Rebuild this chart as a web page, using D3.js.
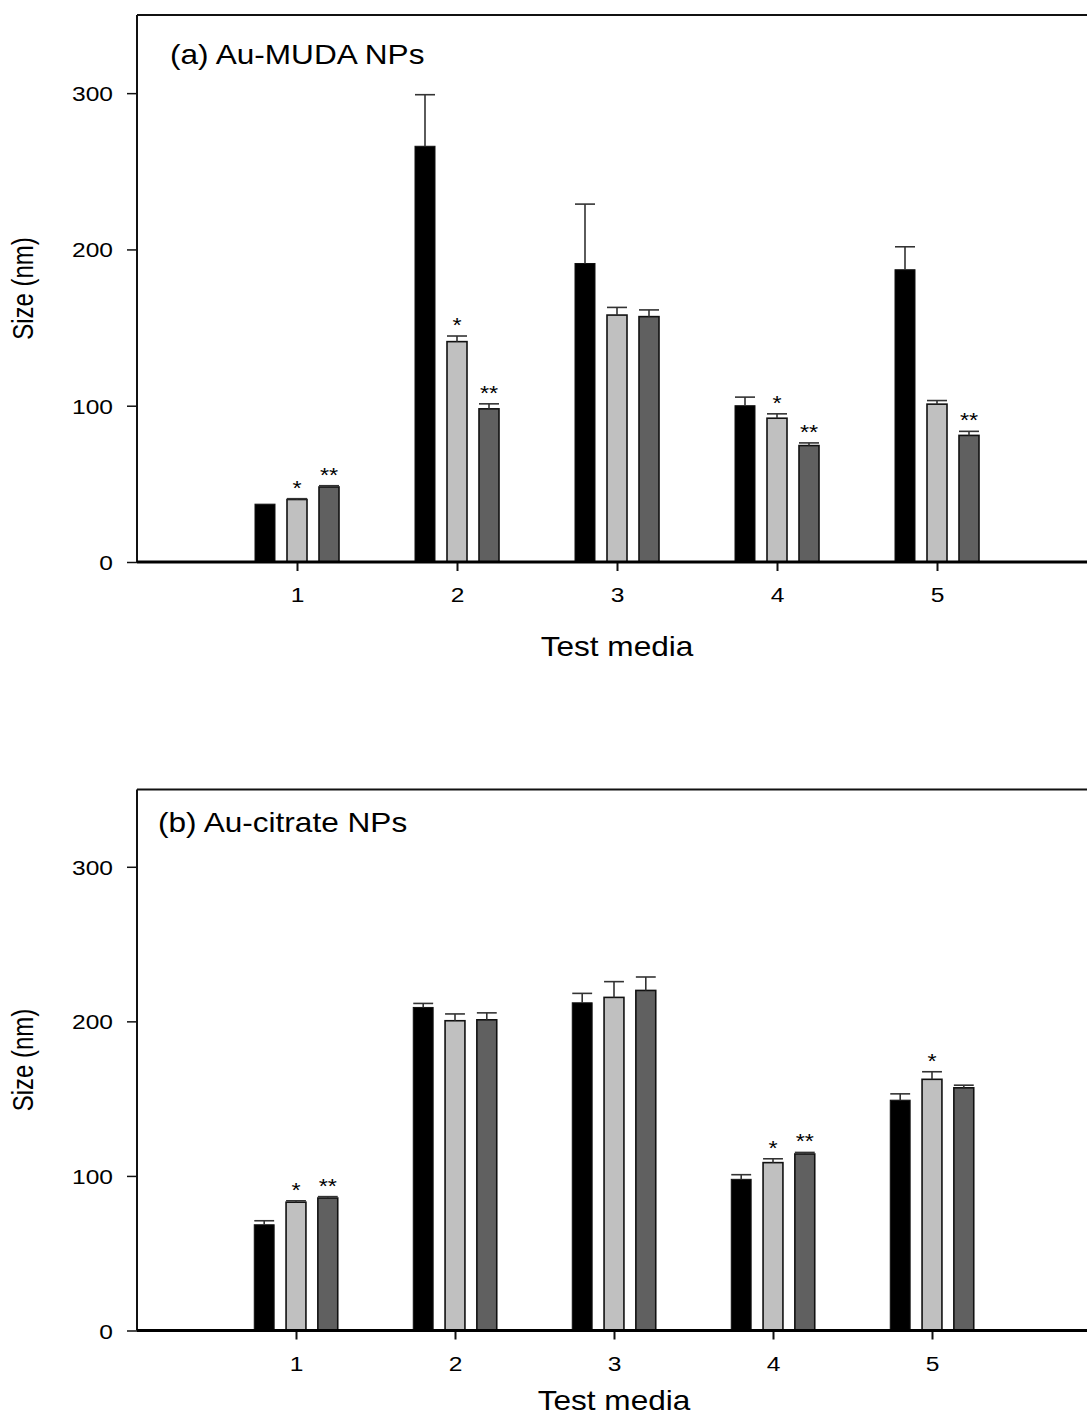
<!DOCTYPE html>
<html>
<head>
<meta charset="utf-8">
<script src="https://cdn.jsdelivr.net/npm/d3@7"></script>
<style>
  html, body { margin: 0; padding: 0; background: #fff; }
  svg { display: block; }
</style>
</head>
<body>
<div id="chart"></div>
<script>
// test media 1..5, three series per medium (black, light grey, dark grey)
const media = [1, 2, 3, 4, 5];
const yTicks = [0, 100, 200, 300];

// (a) Au-MUDA NPs
const mudaS0 = [37, 266, 191, 100, 187];
const mudaS0Err = [0, 33, 38, 5.5, 14.7];
const mudaS1 = [40, 141, 158, 92, 101];
const mudaS1Err = [0.5, 3.6, 4.9, 2.8, 2.3];
const mudaS2 = [48, 98, 157, 74.5, 81];
const mudaS2Err = [0.8, 3.2, 4.3, 1.7, 2.6];
const mudaSig1 = ['*', '*', '', '*', ''];
const mudaSig2 = ['**', '**', '', '**', '**'];

// (b) Au-citrate NPs
const citS0 = [68.4, 209, 212, 97.8, 149];
const citS0Err = [2.6, 2.6, 6.1, 3, 4.1];
const citS1 = [83, 200.4, 215.5, 108.6, 162.5];
const citS1Err = [0.9, 4.4, 10.2, 2.5, 4.9];
const citS2 = [85.7, 201, 220, 114.2, 157];
const citS2Err = [0.9, 4.5, 8.7, 1, 1.7];
const citSig1 = ['*', '', '', '*', '*'];
const citSig2 = ['**', '', '', '**', ''];

const W = 1087, H = 1418;
const FONT = 'Liberation Sans, Arial, sans-serif';
const SX = 1.17; // the figure is stretched horizontally
const FILLS = ['#000000', '#c0c0c0', '#606060'];

const svg = d3.select('#chart').append('svg')
  .attr('width', W).attr('height', H)
  .attr('viewBox', `0 0 ${W} ${H}`);

const panels = [
  { title: '(a) Au-MUDA NPs', y0: 562, yTop: 15, unit: 160, titleX: 170, titleY: 64, labelY: 656,
    series: [mudaS0, mudaS1, mudaS2], errs: [mudaS0Err, mudaS1Err, mudaS2Err], sig: [null, mudaSig1, mudaSig2] },
  { title: '(b) Au-citrate NPs', y0: 1330.5, yTop: 789.5, unit: 159, titleX: 158, titleY: 832, labelY: 1410,
    series: [citS0, citS1, citS2], errs: [citS0Err, citS1Err, citS2Err], sig: [null, citSig1, citSig2] }
];

panels.forEach(p => drawPanel(p));

function drawPanel(p) {
  const x0 = 137;
  const x = d3.scaleLinear().domain([0, 6]).range([x0, x0 + 6 * p.unit]);
  const y = d3.scaleLinear().domain([0, 350]).range([p.y0, p.yTop]);
  const g = svg.append('g');

  const offset = 0.2, barW = 0.125;

  // bars
  p.series.forEach((vals, si) => {
    const bw = x(barW) - x(0);
    const bg = g.append('g');
    vals.forEach((v, i) => {
      const cx = x(media[i] + (si - 1) * offset);
      bg.append('rect')
        .attr('x', cx - bw / 2).attr('width', bw)
        .attr('y', y(v)).attr('height', y(0) - y(v))
        .attr('fill', FILLS[si])
        .attr('stroke', '#111').attr('stroke-width', si === 0 ? 1 : 1.6);

      // upward error bar
      const e = p.errs[si][i];
      if (e > 0) {
        bg.append('line')
          .attr('x1', cx).attr('x2', cx).attr('y1', y(v)).attr('y2', y(v + e))
          .attr('stroke', '#333').attr('stroke-width', 1.6);
        bg.append('line')
          .attr('x1', cx - bw / 2).attr('x2', cx + bw / 2).attr('y1', y(v + e)).attr('y2', y(v + e))
          .attr('stroke', '#333').attr('stroke-width', 1.6);
      }

      // significance marks
      const s = p.sig[si] ? p.sig[si][i] : '';
      if (s) {
        g.append('text')
          .attr('transform', `translate(${cx},${y(v + e) - 4}) scale(${SX},1)`)
          .attr('text-anchor', 'middle')
          .attr('font-family', FONT).attr('font-size', 20)
          .attr('fill', '#000')
          .text(s);
      }
    });
  });

  // frame: top and left
  g.append('line')
    .attr('x1', x0).attr('x2', x(6)).attr('y1', p.yTop).attr('y2', p.yTop)
    .attr('stroke', '#111').attr('stroke-width', 2);
  g.append('line')
    .attr('x1', x0).attr('x2', x0).attr('y1', p.yTop).attr('y2', p.y0)
    .attr('stroke', '#111').attr('stroke-width', 2);

  // y axis
  const yAxis = g.append('g')
    .attr('transform', `translate(${x0},0)`)
    .call(d3.axisLeft(y).tickValues(yTicks).tickSize(10).tickFormat(d3.format('d')));
  yAxis.select('.domain').remove();
  yAxis.selectAll('line').attr('stroke', '#111').attr('stroke-width', 1.5);
  yAxis.selectAll('text')
    .attr('x', null).attr('dy', null)
    .attr('transform', `translate(-24,0) scale(${SX},1) translate(0,7.5)`)
    .attr('font-family', FONT).attr('font-size', 21).attr('fill', '#000');

  // x axis
  const xAxis = g.append('g')
    .attr('transform', `translate(0,${p.y0})`)
    .call(d3.axisBottom(x).tickValues(media).tickSize(9).tickFormat(d3.format('d')));
  xAxis.select('.domain').remove();
  xAxis.selectAll('line').attr('stroke', '#111').attr('stroke-width', 2);
  xAxis.selectAll('text')
    .attr('y', null).attr('dy', null)
    .attr('transform', `translate(0,40) scale(${SX},1)`)
    .attr('font-family', FONT).attr('font-size', 21).attr('fill', '#000');
  g.append('line')
    .attr('x1', x0).attr('x2', x(6)).attr('y1', p.y0).attr('y2', p.y0)
    .attr('stroke', '#000').attr('stroke-width', 3);

  // labels
  g.append('text')
    .attr('transform', `translate(${x(3)},${p.labelY}) scale(${SX},1)`)
    .attr('text-anchor', 'middle')
    .attr('font-family', FONT).attr('font-size', 27).attr('fill', '#000')
    .text('Test media');

  g.append('text')
    .attr('transform', `translate(33,${(p.y0 + p.yTop) / 2}) scale(1.25,1) rotate(-90)`)
    .attr('text-anchor', 'middle')
    .attr('font-family', FONT).attr('font-size', 24).attr('fill', '#000')
    .text('Size (nm)');

  g.append('text')
    .attr('transform', `translate(${p.titleX},${p.titleY}) scale(${SX},1)`)
    .attr('font-family', FONT).attr('font-size', 27).attr('fill', '#000')
    .text(p.title);
}
</script>
</body>
</html>
